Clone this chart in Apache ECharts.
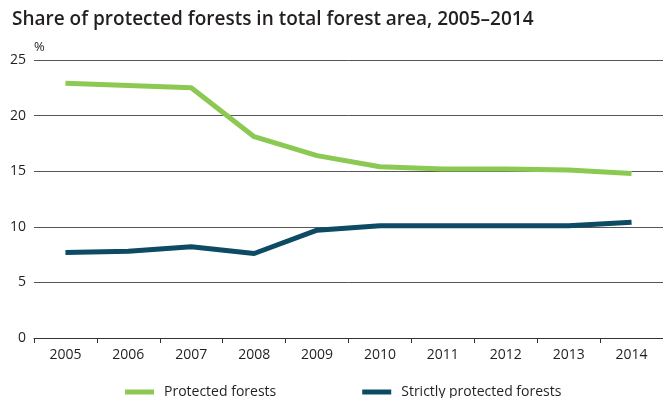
<!DOCTYPE html>
<html>
<head>
<meta charset="utf-8">
<style>
  html, body { margin: 0; padding: 0; background: #fff; }
  #chart { width: 663px; height: 398px; }
</style>
<script src="https://cdn.jsdelivr.net/npm/echarts@6/dist/echarts.min.js"></script>
</head>
<body>
<div id="chart"></div>
<script>
// Years on the category axis
const years = ['2005', '2006', '2007', '2008', '2009', '2010', '2011', '2012', '2013', '2014'];
// Share of total forest area, %
const protectedForests = [22.9, 22.7, 22.5, 18.1, 16.4, 15.4, 15.2, 15.2, 15.1, 14.8];
const strictlyProtected = [7.7, 7.8, 8.2, 7.6, 9.7, 10.1, 10.1, 10.1, 10.1, 10.4];
const seriesNames = ['Protected forests', 'Strictly protected forests'];
const titleText = 'Share of protected forests in total forest area, 2005\u20132014';

const FONT = '"Open Sans", sans-serif';
const TEXT = '#231f20';
const GREEN = '#8cc952';
const TEAL = '#0d4a64';

const chart = echarts.init(document.getElementById('chart'), null, { renderer: 'canvas' });
chart.setOption({
  animation: false,
  backgroundColor: '#fff',
  title: {
    text: titleText,
    left: 7,
    top: 5,
    textStyle: { fontFamily: FONT, fontSize: 19, fontWeight: 600, color: TEXT }
  },
  legend: {
    data: seriesNames,
    left: 120,
    top: 380,
    itemWidth: 29,
    itemHeight: 5,
    itemGap: 86,
    icon: 'rect',
    textStyle: { fontFamily: FONT, fontSize: 14, color: TEXT, padding: [0, 0, 0, 5] }
  },
  grid: { left: 34, top: 60, width: 634, height: 278, containLabel: false },
  xAxis: {
    type: 'category',
    data: years,
    boundaryGap: true,
    axisLine: { lineStyle: { color: '#333', width: 1 } },
    axisTick: { show: true, length: 5, lineStyle: { color: '#333' } },
    axisLabel: { fontFamily: FONT, fontSize: 14, color: TEXT, margin: 10 },
    splitLine: { show: false }
  },
  yAxis: {
    type: 'value',
    min: 0,
    max: 25,
    interval: 5,
    name: '%',
    nameLocation: 'end',
    nameGap: 6,
    nameTextStyle: { fontFamily: FONT, fontSize: 13, color: TEXT, align: 'left' },
    axisLine: { show: false },
    axisTick: { show: false },
    axisLabel: { fontFamily: FONT, fontSize: 14, color: TEXT, margin: 8 },
    splitLine: { lineStyle: { color: '#555', width: 1 } }
  },
  series: [
    {
      name: seriesNames[0],
      type: 'line',
      data: protectedForests,
      symbol: 'none',
      color: GREEN,
      lineStyle: { width: 5, color: GREEN, cap: 'butt', join: 'round' },
      z: 3
    },
    {
      name: seriesNames[1],
      type: 'line',
      data: strictlyProtected,
      symbol: 'none',
      color: TEAL,
      lineStyle: { width: 5, color: TEAL, cap: 'butt', join: 'round' },
      z: 3
    }
  ]
});
</script>
</body>
</html>
